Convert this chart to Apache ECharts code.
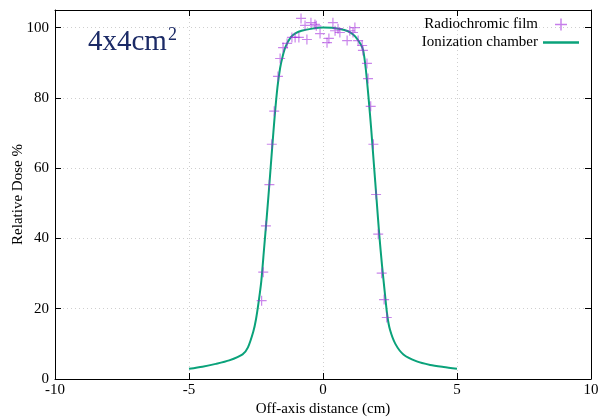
<!DOCTYPE html>
<html><head><meta charset="utf-8">
<script src="https://cdn.jsdelivr.net/npm/echarts@6/dist/echarts.min.js"></script>
<style>html,body{margin:0;padding:0;background:#fff}#c{width:601px;height:420px}</style>
</head><body><div id="c"></div>
<script>
// Radiochromic film measurements (x in cm, relative dose %)
const filmX = [-2.29,-2.23,-2.13,-2.00,-1.91,-1.82,-1.68,-1.60,-1.49,-1.34,-1.16,-1.04,-0.90,-0.82,-0.67,-0.60,-0.45,-0.30,-0.25,-0.11,
  0.15,0.22,0.37,0.45,0.56,0.63,0.90,1.00,1.12,1.19,1.31,1.46,1.49,1.64,1.68,1.78,1.88,1.98,2.06,2.19,2.28,2.38];
const filmY = [22.3,30.4,43.6,55.3,66.8,76.2,86.1,91.2,94.3,95.5,97.2,97.2,97.2,102.6,100.6,96.6,101.4,100.9,100.5,98.3,
  95.7,96.9,101.4,99.1,99.7,98.6,96.3,99.1,98.6,100.0,96.3,94.9,93.5,89.8,85.5,77.6,66.8,52.5,41.2,30.1,22.6,17.5];
// Ionization chamber profile
const chamberX = [-5,-4.5,-4,-3.5,-3,-2.8,-2.6,-2.5,-2.4,-2.3,-2.2,-2.1,-2.0,-1.9,-1.8,-1.7,-1.6,-1.5,-1.4,-1.2,-1.0,-0.8,-0.4,0,
  0.4,0.8,1.0,1.2,1.4,1.5,1.6,1.7,1.8,1.9,2.0,2.1,2.2,2.3,2.4,2.5,2.7,3.0,3.5,4.0,4.5,5];
const chamberY = [2.9,3.5,4.3,5.3,7.0,9.0,13.5,17,22,28,37,46,55.5,65.5,75,83,88.5,92,94.5,97.3,98.5,99.1,99.7,100,
  99.9,99.3,98.7,97.5,95.3,93.5,88,80,71,61,51,41,32.5,25,18,14,10,7.0,5.0,4.0,3.4,2.9];
const xTicks = [-10,-5,0,5,10];
const yTicks = [0,20,40,60,80,100];
const seriesNames = ['Radiochromic film','Ionization chamber'];
const titleText = '4x4cm';

const film = filmX.map((x,i)=>[x,filmY[i]]);
const chamber = chamberX.map((x,i)=>[x,chamberY[i]]);
const plus = 'path://M0,4.4H10V5.6H0Z M4.4,0H5.6V10H4.4Z';
const FONT = '"Liberation Serif","DejaVu Serif",serif';
const gridStyle = {show:true, lineStyle:{color:'#cfcfcf', type:[1,3], width:1}};
const axLine = {show:true, onZero:false, lineStyle:{color:'#000',width:1}};

const chart = echarts.init(document.getElementById('c'), null, {renderer:'canvas'});
chart.setOption({
  animation:false,
  backgroundColor:'#fff',
  textStyle:{fontFamily:FONT},
  title:{
    text:'{m|'+titleText+'}{s|2}', left:83, top:21,
    textStyle:{fontWeight:'normal', rich:{
      m:{fontFamily:FONT,fontSize:29,fontWeight:'normal',color:'#1b2a66'},
      s:{fontFamily:FONT,fontSize:18,fontWeight:'normal',color:'#1b2a66',verticalAlign:'top',padding:[0,0,14,1]}
    }}
  },
  legend:{
    orient:'vertical', right:17, top:12, align:'right', itemGap:3,
    itemWidth:36, itemHeight:12,
    textStyle:{fontFamily:FONT,fontSize:15,color:'#000'},
    data:[
      {name:seriesNames[0], icon:plus, itemStyle:{color:'rgba(160,40,220,0.75)'}},
      {name:seriesNames[1], icon:'path://M0,0H30V2H0Z', itemStyle:{color:'#0aa27a'}}
    ]
  },
  grid:{left:55, right:10, top:10, bottom:41, outerBoundsMode:'none', containLabel:false},
  xAxis:[{
    type:'value', min:-10, max:10, interval:5,
    name:'Off-axis distance (cm)', nameLocation:'middle', nameGap:23, nameMoveOverlap:false,
    nameTextStyle:{fontFamily:FONT,fontSize:15,color:'#000'},
    axisLine:axLine,
    axisTick:{show:true,inside:true,length:6,lineStyle:{color:'#000'}},
    axisLabel:{fontFamily:FONT,fontSize:15,color:'#000',margin:4,
      formatter:v=> xTicks.includes(v)? String(v):''},
    splitLine:gridStyle
  },{
    type:'value', position:'top', min:-10, max:10, interval:5,
    axisLine:axLine,
    axisTick:{show:true,inside:true,length:6,lineStyle:{color:'#000'}},
    axisLabel:{show:false}, splitLine:{show:false}
  }],
  yAxis:[{
    type:'value', min:0, max:105, interval:20,
    name:'Relative Dose %', nameLocation:'middle', nameGap:29, nameMoveOverlap:false,
    nameTextStyle:{fontFamily:FONT,fontSize:15,color:'#000'},
    axisLine:axLine,
    axisTick:{show:true,inside:true,length:6,lineStyle:{color:'#000'}},
    axisLabel:{fontFamily:FONT,fontSize:15,color:'#000',margin:6,
      formatter:v=> yTicks.includes(v)? String(v):''},
    splitLine:gridStyle
  },{
    type:'value', position:'right', min:0, max:105, interval:20,
    axisLine:axLine,
    axisTick:{show:true,inside:true,length:6,lineStyle:{color:'#000'}},
    axisLabel:{show:false}, splitLine:{show:false}
  }],
  series:[
    {name:seriesNames[0], type:'scatter', data:film, symbol:plus, symbolSize:10,
      itemStyle:{color:'rgba(160,40,220,0.7)'}, z:3},
    {name:seriesNames[1], type:'line', data:chamber, showSymbol:false, smooth:0.25,
      lineStyle:{color:'#0aa27a', width:2}, itemStyle:{color:'#0aa27a'}, z:2}
  ]
});
</script></body></html>
